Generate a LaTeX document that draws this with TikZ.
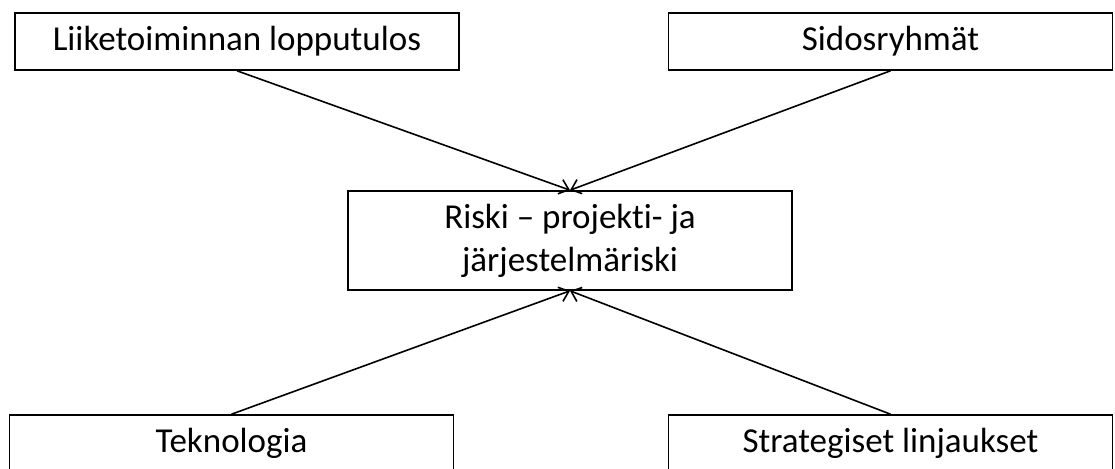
\documentclass[tikz,border=0pt]{standalone}
\usepackage{fontspec}
\setmainfont{Carlito}[Ligatures=NoCommon]
\usetikzlibrary{arrows.meta}

\begin{document}
\begin{tikzpicture}[x=1pt,y=-1pt,
  box/.style={draw, line width=1.6pt, minimum width=444pt, minimum height=57pt, inner sep=0pt, align=center, font=\fontsize{35}{43}\selectfont},
  arr/.style={line width=1.6pt, -{Straight Barb[length=9pt,width=15pt]}}]

\useasboundingbox (0,0) rectangle (1115,468);
\clip (0,0) rectangle (1115,468);

\node[box] (tulos) at (237,41.5) {Liiketoiminnan lopputulos};
\node[box] (sidos) at (890.5,41.5) {Sidosryhmät};
\node[box, minimum height=99pt] (riski) at (570,240.5) {Riski – projekti- ja\\järjestelmäriski};
\node[box] (tekno) at (231.5,443.5) {Teknologia};
\node[box] (strat) at (890.5,443.5) {Strategiset linjaukset};

\draw[arr] (tulos.south)--(riski.north);
\draw[arr] (sidos.south)--(riski.north);
\draw[arr] (tekno.north)--(riski.south);
\draw[arr] (strat.north)--(riski.south);

\end{tikzpicture}
\end{document}
